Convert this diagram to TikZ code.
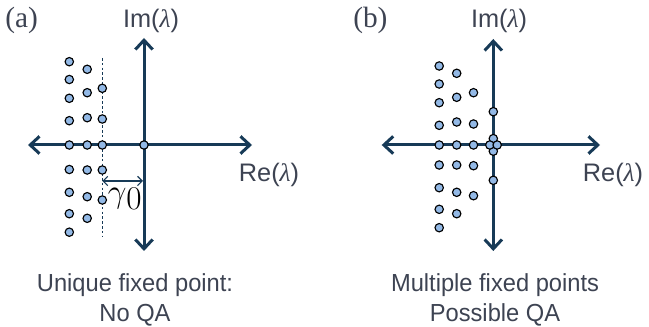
\documentclass[tikz,border=0pt]{standalone}
\usepackage[no-math]{fontspec}
\setmainfont{Liberation Sans}
\newfontfamily\capfont[FakeStretch=0.96]{Liberation Sans}
\newfontfamily\serfont{Liberation Serif}
\usetikzlibrary{arrows.meta}
\definecolor{axisblue}{HTML}{173A57}
\definecolor{dotblue}{HTML}{93B9E6}
\definecolor{txtgray}{HTML}{3D4352}
\newcommand{\lam}{{\serfont\itshape λ}}

\begin{document}
\begin{tikzpicture}[x=0.75pt,y=-0.75pt,
  >={Straight Barb[length=7pt,width=13pt]},
  axis/.style={draw=axisblue, line width=2.25pt, <->},
  guide/.style={draw=axisblue, line width=0.9pt, dash pattern=on 2pt off 1.6pt},
  gap/.style={draw=axisblue, line width=0.8pt,
    {Straight Barb[length=3.5pt,width=7pt]}-{Straight Barb[length=3.5pt,width=7pt]}},
  root/.style={circle, draw=black, fill=dotblue, line width=0.85pt,
    inner sep=0pt, minimum size=6.3pt},
  axlbl/.style={text=txtgray, font=\fontsize{19}{23}\selectfont, inner sep=0pt, anchor=base},
  panel/.style={text=txtgray, font=\serfont\fontsize{22}{26}\selectfont, inner sep=0pt, anchor=base west},
  caption/.style={text=txtgray, font=\capfont\fontsize{18.5}{22}\selectfont, inner sep=0pt, anchor=base}]
\useasboundingbox (0,0) rectangle (649,327);

% ---------- panel (a) ----------
\coordinate (aL) at (28,145);
\coordinate (aR) at (252,145);
\coordinate (aT) at (144,38);
\coordinate (aB) at (144,251);
\coordinate (gT) at (102.3,58);
\coordinate (gB) at (102.3,236);
\draw[guide] (gT) -- (gB);
\draw[axis] (aL) -- (aR);
\draw[axis] (aT) -- (aB);

\foreach \y [count=\i] in {61.7,79.5,98.3,120.7,145,169.5,192.3,213.7,232.2}
  \node[root] (a1-\i) at (69.3,\y) {};
\foreach \y [count=\i] in {69.3,92.7,117.7,145,170,196.7,218.3}
  \node[root] (a2-\i) at (87.2,\y) {};
\foreach \y [count=\i] in {88.3,119,145,170,200}
  \node[root] (a3-\i) at (102.3,\y) {};
\node[root] (a0) at (144,145) {};

\coordinate (gL) at (102.3,181);
\coordinate (gR) at (143,181);
\draw[gap] (gL) -- (gR);
\node[text=black, inner sep=0pt, anchor=base west, font=\fontsize{23}{23}\selectfont]
  (gamma) at (107.5,203) {$\gamma\raisebox{-5pt}{$0$}$};

\node[panel] (labA) at (5,28) {(a)};
\node[axlbl] (imA) at (151,28) {Im(\lam)};
\node[axlbl] (reA) at (269,182) {Re(\lam)};
\node[caption] (capA1) at (135,292) {Unique fixed point:};
\node[caption] (capA2) at (135,321) {No QA};

% ---------- panel (b) ----------
\coordinate (bL) at (381.7,145);
\coordinate (bR) at (600,145);
\coordinate (bT) at (493.3,39);
\coordinate (bB) at (493.3,251);
\draw[axis] (bL) -- (bR);
\draw[axis] (bT) -- (bB);

\foreach \y [count=\i] in {66,84,102.7,125.3,145,165,187.7,209.3,227.7}
  \node[root] (b1-\i) at (439.2,\y) {};
\foreach \y [count=\i] in {73.3,97.3,122,145,165,192.3,213.7}
  \node[root] (b2-\i) at (456.7,\y) {};
\foreach \y [count=\i] in {92.7,124,145,165.7,195.7}
  \node[root] (b3-\i) at (473.5,\y) {};
\node[root] (b0u) at (493.3,111.7) {};
\node[root] (b0d) at (493.3,180.3) {};
\node[root] (b0t) at (493.3,138.6) {};
\node[root] (b0b) at (493.3,151.2) {};
\node[root] (b0l) at (489.8,145) {};
\node[root] (b0r) at (497.2,145) {};

\node[panel] (labB) at (353,28) {(b)};
\node[axlbl] (imB) at (499,28) {Im(\lam)};
\node[axlbl] (reB) at (613,182) {Re(\lam)};
\node[caption] (capB1) at (495,292) {Multiple fixed points};
\node[caption] (capB2) at (495,321) {Possible QA};
\end{tikzpicture}
\end{document}
